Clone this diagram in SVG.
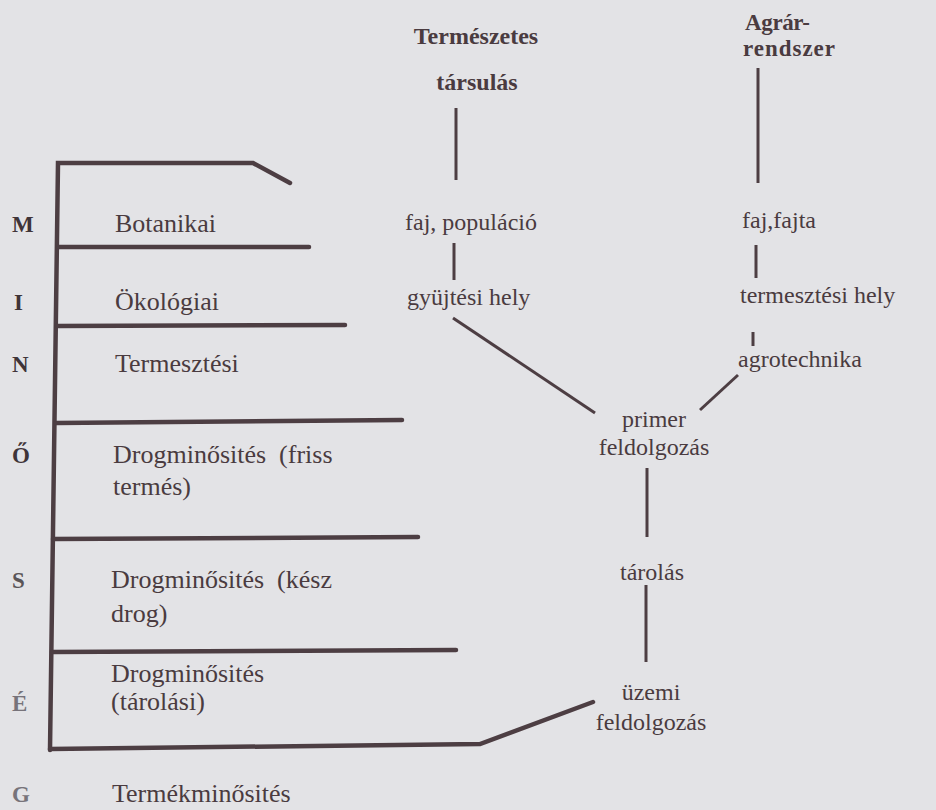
<svg xmlns="http://www.w3.org/2000/svg" width="936" height="810" viewBox="0 0 936 810">
<style>
.bg{fill:#e3e3e6}
.t{font-family:"Liberation Serif","Times New Roman",serif;font-size:24px;fill:#4a3b40}
.lv{font-size:26px}
.b{font-weight:bold}
.c{text-anchor:middle}
.L{font-family:"Liberation Serif","Times New Roman",serif;font-size:23px;font-weight:bold;fill:#3f3438}
.frame{fill:none;stroke:#4d3e43;stroke-width:4.5;stroke-linecap:round;stroke-linejoin:miter}
.con{fill:none;stroke:#4d3e43;stroke-width:3;stroke-linecap:butt}
</style>
<rect class="bg" x="0" y="0" width="936" height="810"/>
<g id="frame">
<polyline class="frame" points="290,183 253,163 58,163 50,750"/>
<line class="frame" x1="58" y1="247" x2="309" y2="247"/>
<line class="frame" x1="57" y1="326" x2="345" y2="325"/>
<line class="frame" x1="56" y1="423" x2="402" y2="420"/>
<line class="frame" x1="53" y1="539" x2="418" y2="537"/>
<line class="frame" x1="52" y1="652" x2="456" y2="650"/>
<polyline class="frame" points="50,749 480,744 593,702"/>
</g>
<g id="letters">
<text class="L" x="12" y="232">M</text>
<text class="L" x="14" y="310">I</text>
<text class="L" x="12" y="372">N</text>
<text class="L" x="12" y="463">Ő</text>
<text class="L" x="12" y="588" style="fill:#5a5558">S</text>
<text class="L" x="12" y="711" style="fill:#77737a">É</text>
<text class="L" x="12" y="802" style="fill:#77737a">G</text>
</g>
<g id="levels">
<text class="t lv" x="115" y="232">Botanikai</text>
<text class="t lv" x="115" y="310">Ökológiai</text>
<text class="t lv" x="115" y="372">Termesztési</text>
<text class="t lv" x="113" y="463" xml:space="preserve">Drogminősités  (friss</text>
<text class="t lv" x="113" y="495">termés)</text>
<text class="t lv" x="111" y="588" xml:space="preserve">Drogminősités  (kész</text>
<text class="t lv" x="111" y="622">drog)</text>
<text class="t lv" x="111" y="682">Drogminősités</text>
<text class="t lv" x="111" y="710">(tárolási)</text>
<text class="t lv" x="112" y="802">Termékminősités</text>
</g>
<g id="n-termeszetes"><text class="t b c" x="476" y="44">Természetes</text><text class="t b c" x="477" y="90">társulás</text></g>
<g id="n-agrar"><text class="t b" x="745" y="30" style="font-size:23px" textLength="65">Agrár-</text><text class="t b" x="743" y="56" style="font-size:23px" textLength="92">rendszer</text></g>
<g id="n-faj-pop"><text class="t" x="405" y="230">faj, populáció</text></g>
<g id="n-gyujtesi"><text class="t" x="407" y="305">gyüjtési hely</text></g>
<g id="n-faj-fajta"><text class="t" x="742" y="228">faj,fajta</text></g>
<g id="n-termesztesi"><text class="t" x="740" y="303">termesztési hely</text></g>
<g id="n-agrotech"><text class="t" x="738" y="367">agrotechnika</text></g>
<g id="n-primer"><text class="t c" x="654" y="427">primer</text><text class="t c" x="654" y="455">feldolgozás</text></g>
<g id="n-tarolas"><text class="t c" x="652" y="580">tárolás</text></g>
<g id="n-uzemi"><text class="t c" x="651" y="700">üzemi</text><text class="t c" x="651" y="730">feldolgozás</text></g>
<g id="connectors">
<line class="con" x1="456" y1="108" x2="456" y2="180"/>
<line class="con" x1="454" y1="243" x2="454" y2="280"/>
<line class="con" x1="453" y1="318" x2="595" y2="413"/>
<line class="con" x1="758" y1="68" x2="758" y2="183"/>
<line class="con" x1="756" y1="245" x2="756" y2="278"/>
<line class="con" x1="753" y1="332" x2="753" y2="346"/>
<line class="con" x1="738" y1="375" x2="700" y2="410"/>
<line class="con" x1="647" y1="468" x2="647" y2="537"/>
<line class="con" x1="646" y1="585" x2="646" y2="662"/>
</g>
</svg>
